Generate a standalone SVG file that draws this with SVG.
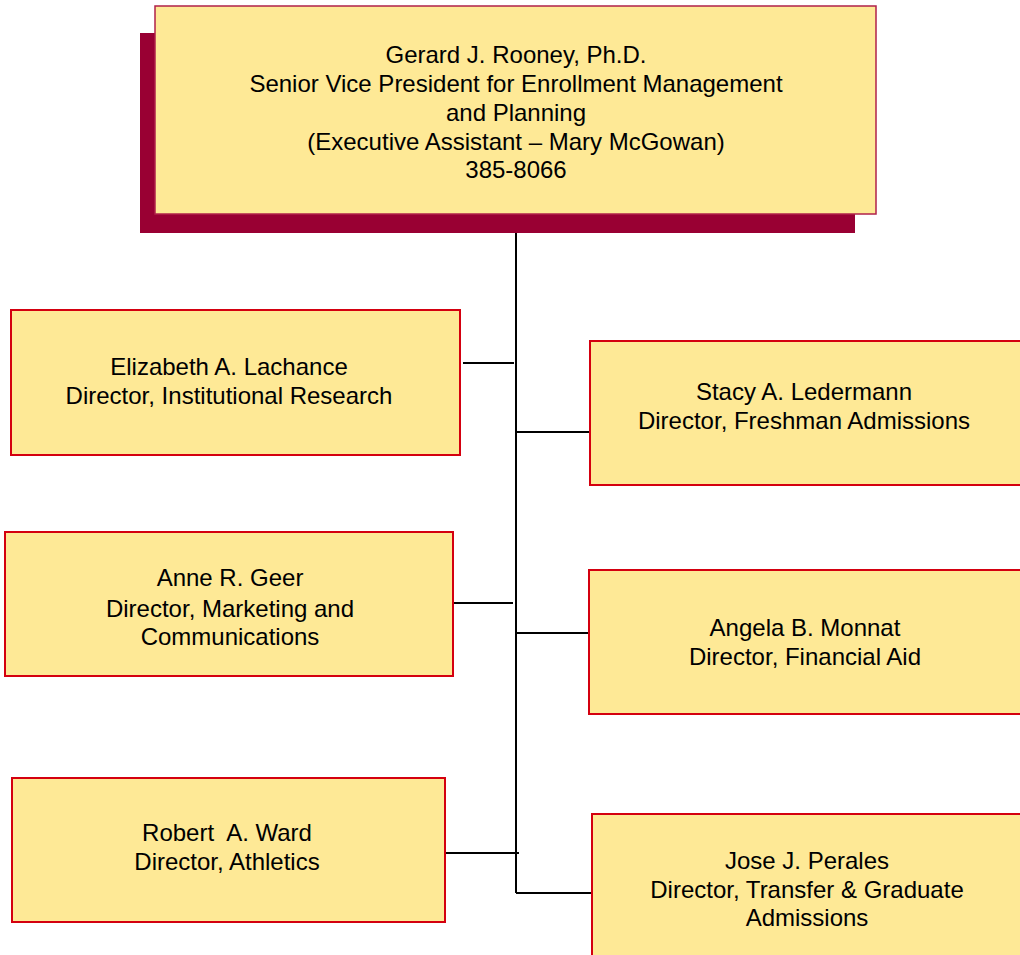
<svg xmlns="http://www.w3.org/2000/svg" width="1020" height="955" viewBox="0 0 1020 955">
<style>
.box{fill:#FEE996;stroke:#D4000F;stroke-width:2}
.top{fill:#FEE996;stroke:#B0204A;stroke-width:1.5}
.shadow{fill:#990033}
.t{font-family:"Liberation Sans",Arial,sans-serif;font-size:24px;fill:#000;text-anchor:middle}
.c{stroke:#000;stroke-width:2;fill:none}
</style>
<rect width="1020" height="955" fill="#fff"/>
<g id="connectors">
<line class="c" x1="516" y1="214" x2="516" y2="893"/>
<line class="c" x1="463" y1="363" x2="514" y2="363"/>
<line class="c" x1="453" y1="603" x2="513" y2="603"/>
<line class="c" x1="445" y1="853" x2="519" y2="853"/>
<line class="c" x1="516" y1="432" x2="590" y2="432"/>
<line class="c" x1="516" y1="633" x2="589" y2="633"/>
<line class="c" x1="516" y1="893" x2="592" y2="893"/>
</g>
<g id="rooney">
<rect class="shadow" x="140" y="33" width="715" height="200"/>
<rect class="top" x="155" y="6" width="721" height="208"/>
<text class="t" x="516" y="63">Gerard J. Rooney, Ph.D.</text>
<text class="t" x="516" y="92">Senior Vice President for Enrollment Management</text>
<text class="t" x="516" y="121">and Planning</text>
<text class="t" x="516" y="150">(Executive Assistant – Mary McGowan)</text>
<text class="t" x="516" y="178">385-8066</text>
</g>
<g id="lachance">
<rect class="box" x="11" y="310" width="449" height="145"/>
<text class="t" x="229" y="375">Elizabeth A. Lachance</text>
<text class="t" x="229" y="404">Director, Institutional Research</text>
</g>
<g id="geer">
<rect class="box" x="5" y="532" width="448" height="144"/>
<text class="t" x="230" y="586">Anne R. Geer</text>
<text class="t" x="230" y="617">Director, Marketing and</text>
<text class="t" x="230" y="645">Communications</text>
</g>
<g id="ward">
<rect class="box" x="12" y="778" width="433" height="144"/>
<text class="t" x="227" y="841" xml:space="preserve">Robert  A. Ward</text>
<text class="t" x="227" y="870">Director, Athletics</text>
</g>
<g id="ledermann">
<rect class="box" x="590" y="341" width="440" height="144"/>
<text class="t" x="804" y="400">Stacy A. Ledermann</text>
<text class="t" x="804" y="429">Director, Freshman Admissions</text>
</g>
<g id="monnat">
<rect class="box" x="589" y="570" width="440" height="144"/>
<text class="t" x="805" y="636">Angela B. Monnat</text>
<text class="t" x="805" y="665">Director, Financial Aid</text>
</g>
<g id="perales">
<rect class="box" x="592" y="814" width="440" height="150"/>
<text class="t" x="807" y="869">Jose J. Perales</text>
<text class="t" x="807" y="898">Director, Transfer &amp; Graduate</text>
<text class="t" x="807" y="926">Admissions</text>
</g>
</svg>
